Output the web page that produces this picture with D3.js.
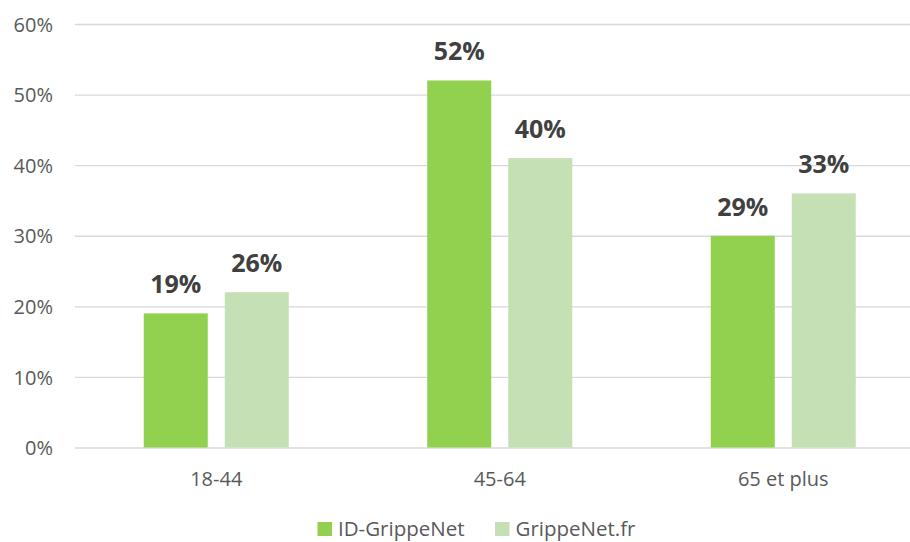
<!DOCTYPE html>
<html>
<head>
<meta charset="utf-8">
<script src="https://cdn.jsdelivr.net/npm/d3@7"></script>
<style>
    body { margin: 0; background: #fff; }
    svg { display: block; }
    svg text { font-family: "Open Sans", sans-serif; }
</style>
</head>
<body>
<div id="chart"></div>
<script>
const categories = ["18-44", "45-64", "65 et plus"];
const seriesNames = ["ID-GrippeNet", "GrippeNet.fr"];
// bar heights as drawn, and the labels printed above them
const idGrippeNet = [19, 52, 30];
const grippeNetFr = [22, 41, 36];
const idGrippeNetLabels = ["19%", "52%", "29%"];
const grippeNetFrLabels = ["26%", "40%", "33%"];
const yTicks = [0, 10, 20, 30, 40, 50, 60];

const seriesColors = ["#92d050", "#c5e0b4"];
const width = 910, height = 542;

const svg = d3.select("#chart").append("svg")
    .attr("width", width)
    .attr("height", height);

const y = d3.scaleLinear().domain([0, 60]).range([447.5, 24]);

const x0 = d3.scaleBand()
    .domain(categories)
    .range([74.5, 925])
    .paddingInner(0.4885)
    .paddingOuter(0.2443);

const x1 = d3.scaleBand()
    .domain(seriesNames)
    .range([0, x0.bandwidth()])
    .paddingInner(0.21);

const color = d3.scaleOrdinal().domain(seriesNames).range(seriesColors);

// gridlines + tick labels
const yAxis = d3.axisLeft(y)
    .tickValues(yTicks)
    .tickFormat(d => d + "%")
    .tickSize(-(width - 75))
    .tickPadding(22);

const yAxisG = svg.append("g")
    .attr("transform", "translate(75,0)")
    .call(yAxis);

yAxisG.select(".domain").remove();
yAxisG.selectAll(".tick line")
    .attr("stroke", "#d9d9d9")
    .attr("stroke-width", 1.3);
yAxisG.selectAll(".tick text")
    .attr("fill", "#595959")
    .style("font-size", "20px")
    .attr("dy", "0.36em");

// category axis, no ticks
const xAxisG = svg.append("g")
    .attr("transform", "translate(0,447.5)")
    .call(d3.axisBottom(x0).tickSize(0).tickPadding(24));

xAxisG.select(".domain").remove();
xAxisG.selectAll(".tick text")
    .attr("fill", "#595959")
    .style("font-size", "20px");

const rows = categories.map((category, i) => ({
    category,
    values: [
        { series: seriesNames[0], value: idGrippeNet[i], label: idGrippeNetLabels[i] },
        { series: seriesNames[1], value: grippeNetFr[i], label: grippeNetFrLabels[i] }
    ]
}));

const groups = svg.append("g")
    .selectAll("g")
    .data(rows)
    .enter()
    .append("g")
    .attr("transform", row => `translate(${x0(row.category)},0)`);

groups.selectAll("rect")
    .data(row => row.values)
    .enter()
    .append("rect")
    .attr("x", d => x1(d.series))
    .attr("y", d => y(d.value))
    .attr("width", x1.bandwidth())
    .attr("height", d => y(0) - y(d.value))
    .attr("fill", d => color(d.series));

groups.selectAll("text.value")
    .data(row => row.values)
    .enter()
    .append("text")
    .attr("class", "value")
    .attr("x", d => x1(d.series) + x1.bandwidth() / 2)
    .attr("y", d => y(d.value) - 20)
    .attr("text-anchor", "middle")
    .attr("fill", "#404040")
    .style("font-size", "25px")
    .style("font-weight", "bold")
    .text(d => d.label);

// legend
const legendX = [317.5, 495];
const legend = svg.append("g")
    .selectAll("g")
    .data(seriesNames)
    .enter()
    .append("g")
    .attr("transform", (d, i) => `translate(${legendX[i]},522)`);

legend.append("rect")
    .attr("width", 14.5)
    .attr("height", 14)
    .attr("fill", color);

legend.append("text")
    .attr("x", 20.5)
    .attr("y", 14)
    .attr("fill", "#595959")
    .style("font-size", "20.5px")
    .text(d => d);
</script>
</body>
</html>
